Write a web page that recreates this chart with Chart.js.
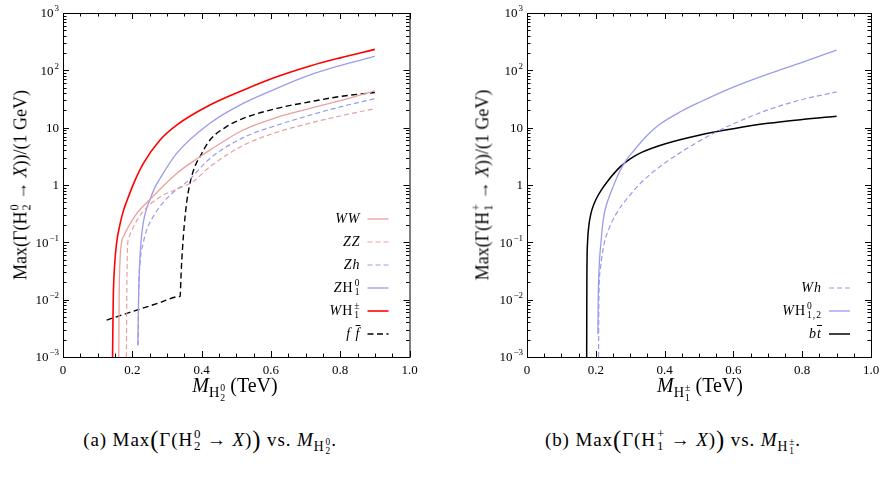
<!DOCTYPE html>
<html>
<head>
<meta charset="utf-8">
<script src="https://cdn.jsdelivr.net/npm/chart.js@4.4.0/dist/chart.umd.min.js"></script>
<style>
  body { margin: 0; background: #fff; }
  #wrap { position: relative; width: 887px; height: 493px; overflow: hidden;
          font-family: "Liberation Serif", "DejaVu Serif", serif; color: #000; }
  canvas { position: absolute; top: 0; }
  .txt { position: absolute; white-space: nowrap; }
  .ss { display: inline-flex; flex-direction: column; font-size: 0.68em; line-height: 0.95;
        vertical-align: 0.62em; margin-left: 1px; text-align: left; }
  .sb { display: inline-block; font-size: 0.72em; vertical-align: -0.38em; }
  .ytitle { font-size: 18px; transform: translate(-50%, -50%) rotate(-90deg); }
  .xtitle { font-size: 20px; transform: translateX(-50%); }
  .cap { font-size: 19px; letter-spacing: 0.9px; transform: translateX(-50%); }
  .big { font-size: 1.3em; vertical-align: -0.08em; }
  .leg { font-size: 14px; line-height: 20px; letter-spacing: 1px; text-align: right; }
  .ov { text-decoration: overline; }
</style>
</head>
<body>
<div id="wrap">
  <canvas id="left" width="430" height="400" style="left:0px"></canvas>
  <canvas id="right" width="447" height="400" style="left:440px"></canvas>

  <div class="txt ytitle" style="left:21px; top:185px">Max(Γ(H<span class="ss"><span>0</span><span>2</span></span> → <i>X</i>))/(1 GeV)</div>
  <div class="txt ytitle" style="left:483px; top:185px">Max(Γ(H<span class="ss"><span>+</span><span>1</span></span> → <i>X</i>))/(1 GeV)</div>

  <div class="txt xtitle" style="left:235px; top:374px"><i>M</i><span class="sb">H<span class="ss"><span>0</span><span>2</span></span></span> (TeV)</div>
  <div class="txt xtitle" style="left:700px; top:374px"><i>M</i><span class="sb">H<span class="ss"><span>±</span><span>1</span></span></span> (TeV)</div>

  <div class="txt cap" style="left:210px; top:426px">(a) Max<span class="big">(</span>Γ(H<span class="ss"><span>0</span><span>2</span></span> → <i>X</i>)<span class="big">)</span> vs. <i>M</i><span class="sb">H<span class="ss"><span>0</span><span>2</span></span></span>.</div>
  <div class="txt cap" style="left:673px; top:426px">(b) Max<span class="big">(</span>Γ(H<span class="ss"><span>+</span><span>1</span></span> → <i>X</i>)<span class="big">)</span> vs. <i>M</i><span class="sb">H<span class="ss"><span>±</span><span>1</span></span></span>.</div>
</div>

<script>
// axis ticks
const xTickValues = [0, 0.2, 0.4, 0.6, 0.8, 1.0];
const xTickLabels = ['0', '0.2', '0.4', '0.6', '0.8', '1.0'];
const yTickValues = [1e-3, 1e-2, 1e-1, 1, 10, 100, 1000];
const yTickBase = ['10', '10', '10', '1', '10', '10', '10'];
const yTickExp = ['−3', '−2', '−1', '', '', '2', '3'];

// (a) H2^0 decays: mass in TeV, width in GeV
const wwMass = [0.161, 0.162, 0.164, 0.169, 0.176, 0.185, 0.213, 0.251, 0.328, 0.395, 0.424, 0.52, 0.617, 0.713, 0.8, 0.9];
const wwWidth = [0.001, 0.01, 0.04, 0.1, 0.13, 0.17, 0.32, 0.56, 1.59, 3.1, 4.06, 9.1, 15.1, 21.7, 29.5, 44];

const zzMass = [0.183, 0.184, 0.185, 0.186, 0.19, 0.198, 0.227, 0.28, 0.33, 0.376, 0.424, 0.52, 0.617, 0.713, 0.8, 0.9];
const zzWidth = [0.001, 0.01, 0.04, 0.08, 0.12, 0.16, 0.32, 0.62, 0.85, 1.15, 2.08, 4.9, 8.3, 12, 16, 21.5];

const zhMass = [0.217, 0.218, 0.222, 0.232, 0.241, 0.266, 0.304, 0.362, 0.424, 0.52, 0.617, 0.713, 0.8, 0.9];
const zhWidth = [0.0016, 0.01, 0.04, 0.1, 0.16, 0.32, 0.62, 1.2, 2.9, 6.7, 11, 16.5, 23, 32];

const zh1Mass = [0.216, 0.218, 0.221, 0.225, 0.229, 0.235, 0.242, 0.251, 0.265, 0.28, 0.328, 0.424, 0.52, 0.617, 0.713, 0.8, 0.9];
const zh1Width = [0.0016, 0.01, 0.04, 0.1, 0.17, 0.28, 0.4, 0.56, 0.9, 1.3, 3.56, 11.9, 26.5, 48.5, 83, 121, 176];

const whpMass = [0.143, 0.145, 0.149, 0.155, 0.164, 0.174, 0.184, 0.205, 0.232, 0.28, 0.328, 0.424, 0.52, 0.617, 0.713, 0.8, 0.9];
const whpWidth = [0.001, 0.01, 0.04, 0.1, 0.2, 0.35, 0.52, 1.1, 2.38, 6.1, 11.1, 24.8, 45, 77, 119, 165, 232];

const ffMass = [0.126, 0.2, 0.28, 0.334, 0.338, 0.341, 0.345, 0.35, 0.357, 0.363, 0.371, 0.382, 0.395, 0.424, 0.472, 0.52, 0.617, 0.713, 0.8, 0.9];
const ffWidth = [0.0044, 0.0062, 0.0089, 0.0113, 0.0115, 0.03, 0.08, 0.2, 0.5, 0.85, 1.39, 2.2, 3.1, 6.1, 10.4, 14.5, 21.7, 28.3, 35, 41];

// (b) H1^+ decays
const whMass = [0.208, 0.209, 0.213, 0.225, 0.236, 0.26, 0.295, 0.335, 0.4, 0.5, 0.56, 0.6, 0.7, 0.8, 0.9];
const whWidth = [0.001, 0.01, 0.033, 0.1, 0.16, 0.32, 0.62, 1.15, 2.4, 5.8, 9, 11.7, 20.4, 31, 42];

const wh0Mass = [0.206, 0.207, 0.21, 0.215, 0.219, 0.224, 0.23, 0.236, 0.254, 0.27, 0.29, 0.314, 0.34, 0.382, 0.45, 0.5, 0.6, 0.7, 0.8, 0.9];
const wh0Width = [0.0025, 0.01, 0.04, 0.1, 0.18, 0.3, 0.43, 0.56, 1.06, 1.75, 2.8, 4.2, 6.4, 11, 19.5, 27.5, 51, 86, 138, 226];

const btMass = [0.1735, 0.174, 0.176, 0.18, 0.186, 0.195, 0.203, 0.215, 0.236, 0.27, 0.3, 0.333, 0.4, 0.5, 0.6, 0.7, 0.8, 0.9];
const btWidth = [0.001, 0.02, 0.1, 0.2, 0.32, 0.47, 0.6, 0.8, 1.2, 2.05, 2.85, 3.7, 5.2, 7.4, 9.6, 11.9, 13.9, 15.8];

const RED = '#ff0000', BLUE = '#9b9bee', PINK = '#e9a0a0', BLACK = '#000000';

function pts(xs, ys) {
  return xs.map((x, i) => ({ x: x, y: ys[i] }));
}

function series(xs, ys, color, width, dash) {
  return {
    data: pts(xs, ys),
    borderColor: color,
    borderWidth: width,
    borderDash: dash || [],
    pointRadius: 0,
    fill: false,
    cubicInterpolationMode: 'monotone'
  };
}

// frame, inward ticks, y labels with exponents, and legend
const framePlugin = {
  id: 'frame',
  afterDatasetsDraw(chart, args, opts) {
    const ctx = chart.ctx, a = chart.chartArea;
    const x = chart.scales.x, y = chart.scales.y;
    ctx.save();
    ctx.strokeStyle = '#000';
    ctx.lineWidth = 1;
    ctx.strokeRect(a.left + 0.5, a.top + 0.5, a.right - a.left, a.bottom - a.top);

    ctx.beginPath();
    for (let i = 0; i <= 20; i++) {
      const px = Math.round(x.getPixelForValue(i * 0.05)) + 0.5;
      const len = (i % 4 === 0) ? 6 : 3.5;
      ctx.moveTo(px, a.bottom); ctx.lineTo(px, a.bottom - len);
      ctx.moveTo(px, a.top); ctx.lineTo(px, a.top + len);
    }
    for (let d = -3; d <= 3; d++) {
      for (let m = 1; m <= 9; m++) {
        if (d === 3 && m > 1) break;
        const py = Math.round(y.getPixelForValue(m * Math.pow(10, d))) + 0.5;
        const len = (m === 1) ? 6 : 3.5;
        ctx.moveTo(a.left, py); ctx.lineTo(a.left + len, py);
        ctx.moveTo(a.right, py); ctx.lineTo(a.right - len, py);
      }
    }
    ctx.stroke();

    // y tick labels
    ctx.fillStyle = '#000';
    ctx.textBaseline = 'middle';
    ctx.textAlign = 'left';
    yTickValues.forEach((v, i) => {
      const py = y.getPixelForValue(v);
      ctx.font = '13px "Liberation Serif", serif';
      const wb = ctx.measureText(yTickBase[i]).width;
      ctx.font = '9px "Liberation Serif", serif';
      const we = yTickExp[i] ? ctx.measureText(yTickExp[i]).width + 1 : 0;
      const x0 = a.left - 4 - wb - we;
      ctx.font = '13px "Liberation Serif", serif';
      ctx.fillText(yTickBase[i], x0, py + 1);
      if (yTickExp[i]) {
        ctx.font = '9px "Liberation Serif", serif';
        ctx.fillText(yTickExp[i], x0 + wb + 1, py - 4);
      }
    });

    // legend samples
    const items = opts.items || [];
    items.forEach((it, k) => {
      const ds = chart.data.datasets[it.ds];
      const rowY = a.bottom - 23 * (items.length - k);
      ctx.beginPath();
      ctx.strokeStyle = ds.borderColor;
      ctx.lineWidth = ds.borderWidth;
      ctx.setLineDash(ds.borderDash);
      ctx.moveTo(a.right - 42, rowY);
      ctx.lineTo(a.right - 21, rowY);
      ctx.stroke();
      ctx.setLineDash([]);
    });
    ctx.restore();

    if (!chart.$legendDone) {
      chart.$legendDone = true;
      const wrap = document.getElementById('wrap');
      const left = chart.canvas.offsetLeft;
      items.forEach((it, k) => {
        const rowY = a.bottom - 23 * (items.length - k);
        const el = document.createElement('div');
        el.className = 'txt leg';
        el.style.right = (887 - (left + a.right - 49)) + 'px';
        el.style.top = (rowY - 10) + 'px';
        el.innerHTML = it.html;
        wrap.appendChild(el);
      });
    }
  }
};

function makeChart(id, datasets, items) {
  const canvas = document.getElementById(id);
  const yWidth = id === 'left' ? 63 : 87;
  const rightPad = id === 'left' ? 20.5 : 16;
  return new Chart(canvas, {
    type: 'line',
    data: { datasets: datasets },
    options: {
      responsive: false,
      animation: false,
      layout: { padding: { top: 13, right: rightPad, left: 0, bottom: 0 } },
      plugins: {
        legend: { display: false },
        tooltip: { enabled: false },
        frame: { items: items }
      },
      scales: {
        x: {
          type: 'linear', min: 0, max: 1,
          grid: { display: false, drawTicks: false },
          border: { display: false },
          afterBuildTicks: (s) => { s.ticks = xTickValues.map(v => ({ value: v })); },
          afterFit: (s) => { s.height = 43; },
          ticks: {
            autoSkip: false, maxRotation: 0, padding: 6, color: '#000',
            font: { family: '"Liberation Serif", serif', size: 13 },
            callback: (v) => xTickLabels[xTickValues.indexOf(v)]
          }
        },
        y: {
          type: 'logarithmic', min: 1e-3, max: 1e3,
          grid: { display: false, drawTicks: false },
          border: { display: false },
          afterBuildTicks: (s) => { s.ticks = yTickValues.map(v => ({ value: v })); },
          afterFit: (s) => { s.width = yWidth; },
          ticks: { display: false }
        }
      }
    },
    plugins: [framePlugin]
  });
}

const ss = (a, b) => '<span class="ss"><span>' + a + '</span><span>' + b + '</span></span>';

makeChart('left', [
  series(wwMass, wwWidth, PINK, 1.3),
  series(zzMass, zzWidth, PINK, 1.2, [5, 3]),
  series(zhMass, zhWidth, BLUE, 1.2, [5, 3]),
  series(zh1Mass, zh1Width, BLUE, 1.3),
  series(whpMass, whpWidth, RED, 1.6),
  series(ffMass, ffWidth, BLACK, 1.4, [6, 3.5])
], [
  { ds: 0, html: '<i>WW</i>' },
  { ds: 1, html: '<i>ZZ</i>' },
  { ds: 2, html: '<i>Zh</i>' },
  { ds: 3, html: '<i>Z</i>H' + ss('0', '1') },
  { ds: 4, html: '<i>W</i>H' + ss('±', '1') },
  { ds: 5, html: '<i>f</i> <i class="ov">f</i>' }
]);

makeChart('right', [
  series(whMass, whWidth, BLUE, 1.2, [5, 3]),
  series(wh0Mass, wh0Width, BLUE, 1.3),
  series(btMass, btWidth, BLACK, 1.5)
], [
  { ds: 0, html: '<i>Wh</i>' },
  { ds: 1, html: '<i>W</i>H' + ss('0', '1,2') },
  { ds: 2, html: '<i>b</i><i class="ov">t</i>' }
]);
</script>
</body>
</html>
